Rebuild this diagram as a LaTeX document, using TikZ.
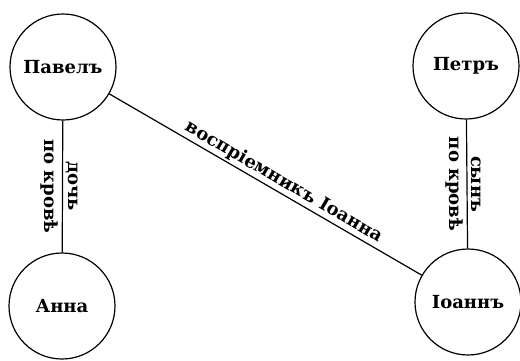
\documentclass[tikz,border=0pt]{standalone}
\usepackage{fontspec}
\setmainfont{DejaVu Serif}
\begin{document}
\begin{tikzpicture}[x=1pt, y=-1pt, line width=1.2pt,
  every node/.style={font=\fontsize{18}{20}\selectfont\bfseries},
  person/.style={draw, circle, minimum size=106pt, inner sep=0pt}]
  \useasboundingbox (0,0) rectangle (520,360);

  \node[person] (pavel) at (63,67) {Павелъ};
  \node[person] (petr) at (466,66) {Петръ};
  \node[person] (anna) at (62,306) {Анна};
  \node[person] (ioann) at (468,302) {Іоаннъ};

  \draw (pavel) -- (anna)
    node[midway, rotate=-90, anchor=north] {по кровѣ}
    node[midway, rotate=-90, anchor=south] {дочь};
  \draw (petr) -- (ioann)
    node[midway, rotate=-90, anchor=north] {по кровѣ}
    node[midway, rotate=-90, anchor=south] {сынъ};
  \draw (pavel) -- (ioann)
    node[pos=0.54, sloped, above, inner sep=2pt] {воспріемникъ Іоанна};
\end{tikzpicture}
\end{document}
